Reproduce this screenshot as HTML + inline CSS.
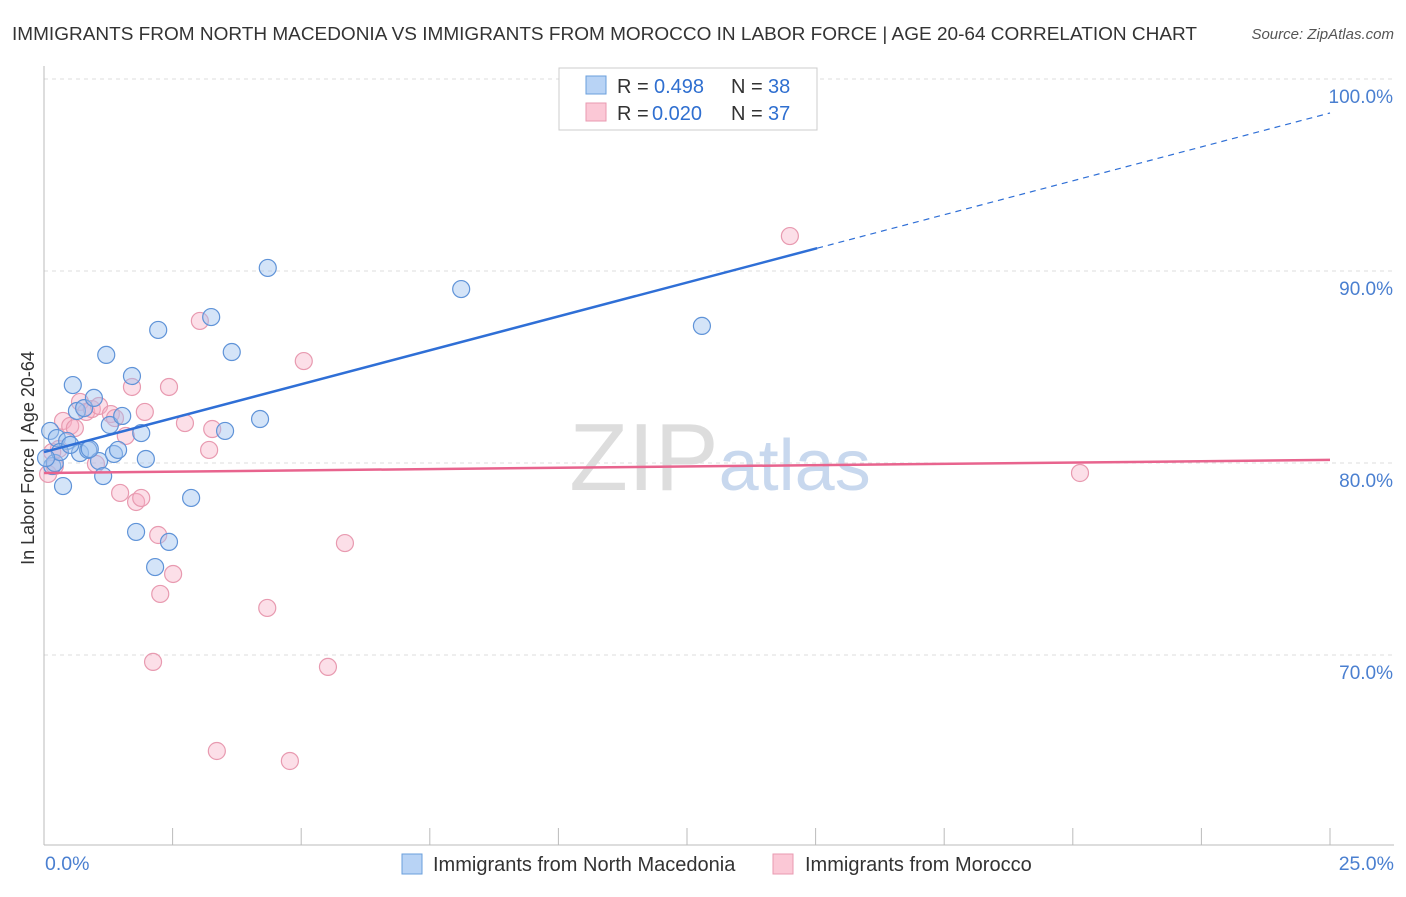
<!DOCTYPE html>
<html><head><meta charset="utf-8"><style>
body{margin:0;background:#fff;font-family:"Liberation Sans",sans-serif;}
svg text{font-family:"Liberation Sans",sans-serif;}
</style></head><body>
<svg id="chart" width="1406" height="892" xmlns="http://www.w3.org/2000/svg">
<text x="12" y="40" font-size="18" fill="#333" textLength="1185" lengthAdjust="spacingAndGlyphs">IMMIGRANTS FROM NORTH MACEDONIA VS IMMIGRANTS FROM MOROCCO IN LABOR FORCE | AGE 20-64 CORRELATION CHART</text>
<text x="1394" y="39" font-size="15" fill="#555" font-style="italic" text-anchor="end">Source: ZipAtlas.com</text>
<text x="720" y="490" font-size="96" text-anchor="middle" fill="#ddd" font-family="Liberation Serif">ZIP<tspan fill="#c8d8ee" font-family="Liberation Sans" font-size="72">atlas</tspan></text>
<text transform="translate(34,458) rotate(-90)" font-size="18" fill="#333" text-anchor="middle">In Labor Force | Age 20-64</text>
<g id="grid"></g><g id="marks"></g>
<g>
<rect x="559" y="68" width="258" height="62" fill="#fff" stroke="#ccc"/>
<rect x="586" y="76" width="20" height="18" fill="#b8d3f5" stroke="#6a9fdc"/>
<text x="617" y="93" font-size="20" fill="#333">R = </text>
<text x="654" y="93" font-size="20" fill="#2f6fd0">0.498</text>
<text x="731" y="93" font-size="20" fill="#333">N = </text>
<text x="768" y="93" font-size="20" fill="#2f6fd0">38</text>
<rect x="586" y="103" width="20" height="18" fill="#fbc8d6" stroke="#e89ab0"/>
<text x="617" y="120" font-size="20" fill="#333">R = </text>
<text x="652" y="120" font-size="20" fill="#2f6fd0">0.020</text>
<text x="731" y="120" font-size="20" fill="#333">N = </text>
<text x="768" y="120" font-size="20" fill="#2f6fd0">37</text>
</g>
<g>
<rect x="402" y="854" width="20" height="20" fill="#b8d3f5" stroke="#6a9fdc"/>
<text x="433" y="871" font-size="20" fill="#333">Immigrants from North Macedonia</text>
<rect x="773" y="854" width="20" height="20" fill="#fbc8d6" stroke="#e89ab0"/>
<text x="805" y="871" font-size="20" fill="#333">Immigrants from Morocco</text>
</g>
</svg>
<script>
const blueX=[0.12,0.25,0.45,0.16,0.37,0.56,0.64,0.70,0.78,0.86,0.97,1.07,1.15,1.21,1.28,1.36,1.44,1.52,1.71,1.79,1.89,1.98,2.16,2.22,2.43,2.86,3.25,3.52,3.65,4.20,4.35,8.11,12.79,0.21,0.89,0.31,0.51,0.04];
const blueY=[81.67,81.30,81.15,79.84,78.80,84.06,82.71,80.52,82.86,80.68,83.39,80.10,79.32,85.63,81.98,80.47,80.68,82.45,84.53,76.41,81.56,80.21,74.58,86.93,75.89,78.18,87.60,81.67,85.78,82.29,90.16,89.06,87.14,80.0,80.73,80.57,80.94,80.26];
const pinkX=[0.08,0.21,0.29,0.37,0.51,0.60,0.70,0.82,0.93,1.01,1.07,1.30,1.38,1.48,1.59,1.71,1.79,1.89,1.96,2.12,2.22,2.26,2.43,2.51,2.74,3.03,3.21,3.27,4.34,4.78,5.05,5.52,5.85,3.36,14.50,20.14,0.16];
const pinkY=[79.43,79.84,80.73,82.19,81.93,81.82,83.18,82.66,82.81,79.95,82.97,82.55,82.34,78.44,81.41,83.96,77.97,78.18,82.66,69.64,76.25,73.18,83.96,74.22,82.08,87.40,80.68,81.77,72.45,64.48,85.31,69.38,75.83,65.0,91.82,79.48,80.57];
const blueTrend=[80.57,98.23];
const pinkTrend=[79.48,80.16];
const blueSolidEnd=15.03;
const yTicks=[100,90,80,70];
const yTickLabels=["100.0%","90.0%","80.0%","70.0%"];
const xTicks=[0,2.5,5,7.5,10,12.5,15,17.5,20,22.5,25];
const NS="http://www.w3.org/2000/svg";
const sx=v=>44+v/25*1286;
const sy=v=>79+(100-v)*19.2;
function mk(tag,attrs,parent){const e=document.createElementNS(NS,tag);for(const k in attrs)e.setAttribute(k,attrs[k]);parent.appendChild(e);return e;}
const grid=document.getElementById('grid'),marks=document.getElementById('marks');
yTicks.forEach((t,i)=>{
 const l=mk('line',{x1:44,x2:1394,y1:sy(t),y2:sy(t),stroke:'#ddd','stroke-dasharray':'4,4'},grid);
 
 
 const tx=mk('text',{x:1393,y:sy(t)+24,'font-size':19,fill:'#4a7fd0','text-anchor':'end'},grid);
 tx.textContent=yTickLabels[i];
 
 
});
const ax=mk('line',{x1:44,x2:44,y1:66,y2:845,stroke:'#bbb'},grid);


const bx=mk('line',{x1:44,x2:1394,y1:845,y2:845,stroke:'#bbb'},grid);


xTicks.forEach(t=>{
 const l=mk('line',{x1:sx(t),x2:sx(t),y1:828,y2:845,stroke:'#bbb'},grid);
 
 
});
const xl0=mk('text',{x:45,y:870,'font-size':19.5,fill:'#4a7fd0'},grid);xl0.textContent='0.0%';


const xl1=mk('text',{x:1394,y:870,'font-size':19.5,fill:'#4a7fd0','text-anchor':'end'},grid);xl1.textContent='25.0%';


function pts(xs,ys,fill,stroke,name){xs.forEach((x,i)=>{
 const c=mk('circle',{cx:sx(x),cy:sy(ys[i]),r:8.5,fill:fill,stroke:stroke,'stroke-width':1.2},marks);
 
 
});}
pts(pinkX,pinkY,'rgba(248,175,198,0.4)','#e89ab0','morocco-point');
pts(blueX,blueY,'rgba(160,196,240,0.45)','#5f93d8','north-macedonia-point');
const bt=v=>blueTrend[0]+(blueTrend[1]-blueTrend[0])*v/25;
const b1=mk('line',{x1:sx(0),y1:sy(bt(0)),x2:sx(blueSolidEnd),y2:sy(bt(blueSolidEnd)),stroke:'#2f6fd6','stroke-width':2.5},marks);


const b2=mk('line',{x1:sx(blueSolidEnd),y1:sy(bt(blueSolidEnd)),x2:sx(25),y2:sy(bt(25)),stroke:'#2f6fd6','stroke-width':1.2,'stroke-dasharray':'6,5'},marks);


const p1=mk('line',{x1:sx(0),y1:sy(pinkTrend[0]),x2:sx(25),y2:sy(pinkTrend[1]),stroke:'#e8648e','stroke-width':2.5},marks);


</script>
</body></html>
